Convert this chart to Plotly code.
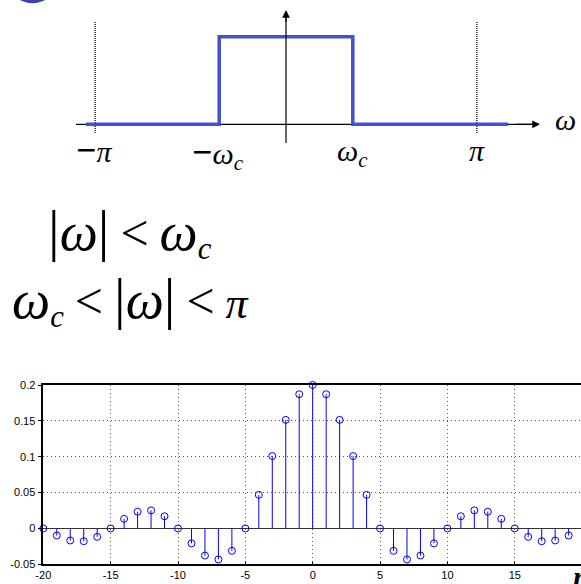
import plotly.graph_objects as go

W, H = 581, 584

# ---------------- stem plot data: h[n] ----------------
n_vals = list(range(-20, 21))
h_vals = [0.0, -0.0098, -0.0168, -0.0178, -0.0117, 0.0, 0.0134, 0.0233, 0.0252, 0.0170, 0.0,
          -0.0208, -0.0378, -0.0432, -0.0312, 0.0, 0.0468, 0.1009, 0.1514, 0.1871, 0.2,
          0.1871, 0.1514, 0.1009, 0.0468, 0.0, -0.0312, -0.0432, -0.0378, -0.0208, 0.0,
          0.0170, 0.0252, 0.0233, 0.0134, 0.0, -0.0117, -0.0178, -0.0168, -0.0098, 0.0]
x_ticks = [-20, -15, -10, -5, 0, 5, 10, 15]
x_ticklabels = ["-20", "-15", "-10", "-5", "0", "5", "10", "15"]
y_ticks = [-0.05, 0, 0.05, 0.1, 0.15, 0.2]
y_ticklabels = ["-0.05", "0", "0.05", "0.1", "0.15", "0.2"]

# ---------------- ideal lowpass diagram (omega in units of pi) ----------------
wc = 0.35
resp_w = [-1.048, -wc, -wc, wc, wc, 1.163]
resp_H = [0, 0, 1, 1, 0, 0]
haxis_w = [-1.10, 1.30]
haxis_H = [0, 0]
vaxis_w = [0, 0]
vaxis_H = [-0.214, 1.25]
pi_marks = [-1, 1]
pi_mark_H = [-0.10, 1.171]

def px(x):
    return x / W

def py(y):
    return 1 - y / H

fig = go.Figure()

# stems
sx, sy = [], []
for n, h in zip(n_vals, h_vals):
    sx += [n, n, None]
    sy += [0, h, None]
fig.add_trace(go.Scatter(x=sx, y=sy, mode="lines", line=dict(color="#0000ff", width=1),
                         hoverinfo="skip", showlegend=False, xaxis="x", yaxis="y"))
fig.add_trace(go.Scatter(x=n_vals, y=h_vals, mode="markers",
                         marker=dict(symbol="circle-open", size=7, color="#0000ff",
                                     line=dict(width=1, color="#0000ff")),
                         cliponaxis=False, showlegend=False, xaxis="x", yaxis="y"))

# diagram
fig.add_trace(go.Scatter(x=haxis_w, y=haxis_H, mode="lines", line=dict(color="black", width=1.2),
                         showlegend=False, xaxis="x2", yaxis="y2"))
for w in pi_marks:
    fig.add_trace(go.Scatter(x=[w, w], y=pi_mark_H, mode="lines",
                             line=dict(color="black", width=1.3, dash="1px,1px"),
                             showlegend=False, xaxis="x2", yaxis="y2"))
fig.add_trace(go.Scatter(x=resp_w, y=resp_H, mode="lines", line=dict(color="#4350d2", width=3.5),
                         showlegend=False, xaxis="x2", yaxis="y2"))
fig.add_trace(go.Scatter(x=vaxis_w, y=vaxis_H, mode="lines", line=dict(color="black", width=1.2),
                         showlegend=False, xaxis="x2", yaxis="y2"))

# axes: stem plot
x0_px = 43.3
unit = 13.47
tick_font = dict(family="Liberation Sans, Arial", size=11, color="black")
fig.update_layout(
    width=W, height=H, margin=dict(l=0, r=0, t=0, b=0, autoexpand=False),
    paper_bgcolor="white", plot_bgcolor="white",
    xaxis=dict(domain=[px(x0_px), 1], range=[-20, -20 + (W - x0_px) / unit],
               tickvals=x_ticks, ticktext=x_ticklabels, showgrid=True, gridcolor="#555555",
               griddash="1px,3px", gridwidth=1, zeroline=False, showline=True, linecolor="black",
               linewidth=1.5, mirror=True, ticks="inside", ticklen=3, tickcolor="black",
               tickfont=tick_font, automargin=False, anchor="y"),
    yaxis=dict(domain=[py(564.3), py(385)], range=[-0.05, 0.2],
               tickvals=y_ticks, ticktext=y_ticklabels, showgrid=True, gridcolor="#555555",
               griddash="1px,3px", gridwidth=1, zeroline=True, zerolinecolor="#333333",
               zerolinewidth=1.2, showline=True, linecolor="black", linewidth=1.5,
               ticks="outside", ticklen=4, tickcolor="black",
               tickfont=tick_font, automargin=False, anchor="x"),
)

# diagram axes map omega/pi -> pixels
cx, sc = 286.0, 190.85
h0, hs = 124.3, 87.6
yd_bottom_px = 234.0
fig.update_layout(
    xaxis2=dict(domain=[0, 1], range=[(0 - cx) / sc, (W - cx) / sc], visible=False,
                automargin=False, anchor="y2"),
    yaxis2=dict(domain=[py(yd_bottom_px), 1], range=[(h0 - yd_bottom_px) / hs, h0 / hs],
                visible=False, automargin=False, anchor="x2"),
)

ann = []
# arrowheads
ann.append(dict(x=1.331, y=0, ax=1.20, ay=0, xref="x2", yref="y2", axref="x2", ayref="y2",
                text="", showarrow=True, arrowhead=2, arrowsize=1.3, arrowwidth=1.2,
                arrowcolor="black"))
ann.append(dict(x=0, y=1.305, ax=0, ay=1.15, xref="x2", yref="y2", axref="x2", ayref="y2",
                text="", showarrow=True, arrowhead=2, arrowsize=1.3, arrowwidth=1.2,
                arrowcolor="black"))

serif = "Liberation Serif, Times New Roman, serif"

def lab(text, x, y, size, xanchor="center", yanchor="middle"):
    ann.append(dict(x=px(x), y=py(y), xref="paper", yref="paper", text=text, showarrow=False,
                    xanchor=xanchor, yanchor=yanchor,
                    font=dict(family=serif, size=size, color="black")))

minus = '<span style="font-size:36px"><b>\u2212</b></span>'
lab(minus + "<i>\u03c0</i>", 94, 150, 30)
lab(minus + "<i>\u03c9</i><sub><i>c</i></sub>", 218, 153, 30)
lab("<i>\u03c9</i><sub><i>c</i></sub>", 352, 153, 30)
lab("<i>\u03c0</i>", 477, 150, 30)
lab("<i>\u03c9</i>", 565, 120, 30)

big_w = '<span style="font-size:54px"><i>\u03c9</i></span>'
bar = '<span style="font-size:58px">|</span>'
lt = '<span style="font-size:50px">&lt;</span>'
lab(bar + big_w + bar + " " + lt + " " + big_w + "<sub><i>c</i></sub>", 130, 232, 44)
lab(big_w + "<sub><i>c</i></sub> " + lt + " " + bar + big_w + bar + " " + lt + " <i>\u03c0</i>",
    131, 300, 44)

# cut-off axis label n at bottom right
ann.append(dict(x=px(571), y=py(558), xref="paper", yref="paper", text="<b><i>n</i></b>",
                showarrow=False, xanchor="left", yanchor="top",
                font=dict(family=serif, size=30, color="black")))

fig.update_layout(annotations=ann)

# partial bullet circle at top-left
fig.add_shape(type="circle", xref="paper", yref="paper",
              x0=px(7), x1=px(58), y0=py(3.3), y1=py(-47.3),
              fillcolor="#3b40b5", line=dict(width=0), layer="above")

fig.write_html("out.html", config={"displayModeBar": False},
               post_script="document.body.style.margin='0';document.body.style.padding='0';")
